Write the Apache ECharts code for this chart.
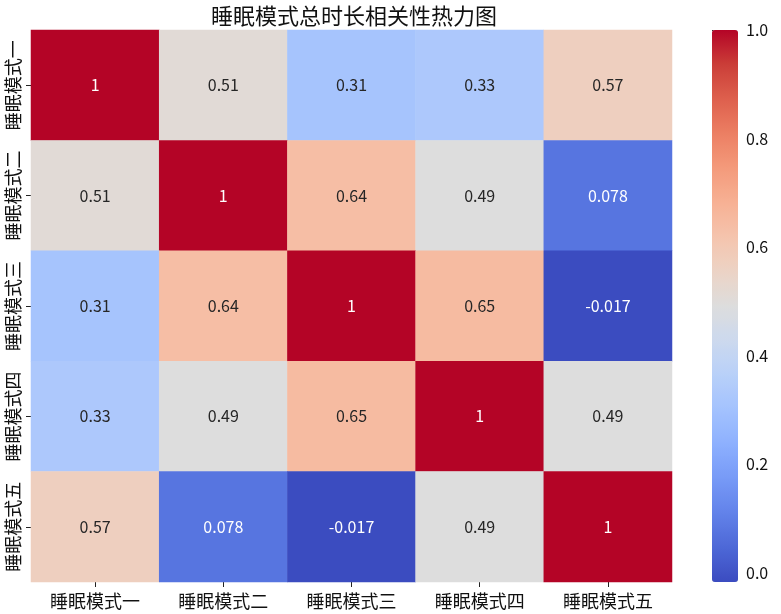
<!DOCTYPE html>
<html>
<head>
<meta charset="utf-8">
<script src="https://cdn.jsdelivr.net/npm/echarts@6/dist/echarts.min.js"></script>
<style>html,body{margin:0;padding:0;background:#fff}#c{width:781px;height:614px}</style>
</head>
<body>
<div id="c"></div>
<script>
const categories = ['睡眠模式一', '睡眠模式二', '睡眠模式三', '睡眠模式四', '睡眠模式五'];
const row1 = [1, 0.51, 0.31, 0.33, 0.57];
const row2 = [0.51, 1, 0.64, 0.49, 0.078];
const row3 = [0.31, 0.64, 1, 0.65, -0.017];
const row4 = [0.33, 0.49, 0.65, 1, 0.49];
const row5 = [0.57, 0.078, -0.017, 0.49, 1];
const colorbarTicks = [0, 0.2, 0.4, 0.6, 0.8, 1.0];
const vmin = -0.017, vmax = 1;

const rows = [row1, row2, row3, row4, row5];
const data = [];
rows.forEach((r, yi) => r.forEach((v, xi) => {
  const t = (v - vmin) / (vmax - vmin);
  const dark = t > 0.85 || t < 0.15;
  data.push({ value: [xi, yi, v], label: { color: dark ? '#ffffff' : '#262626' } });
}));

const coolwarm = ['#3b4cc0','#4d68d7','#6282ea','#779af7','#8db0fe','#a3c2fe','#b8d0f9','#ccd9ee',
  '#dddddd','#ecd3c5','#f5c4ad','#f7b194','#f49a7b','#ec7f63','#de604d','#cb3e38','#b40426'];
const FONT = '"Noto Sans CJK SC", "DejaVu Sans", sans-serif';

const chart = echarts.init(document.getElementById('c'));
chart.setOption({
  backgroundColor: '#fff',
  animation: false,
  textStyle: { fontFamily: FONT },
  title: {
    text: '睡眠模式总时长相关性热力图',
    left: 349, top: 0, textAlign: 'center',
    textStyle: { fontSize: 22, fontWeight: 'normal', color: '#111', fontFamily: FONT }
  },
  grid: [
    { left: 31, top: 30, width: 641, height: 552 },
    { left: 712, top: 30, width: 26, height: 552 }
  ],
  xAxis: [
    {
      type: 'category', data: categories, gridIndex: 0,
      axisLine: { show: false },
      axisTick: { show: true, length: 5, alignWithLabel: true, interval: 0, lineStyle: { color: '#222' } },
      axisLabel: { fontSize: 18, color: '#111', margin: 10, interval: 0, fontFamily: FONT },
      splitLine: { show: false }
    },
    { type: 'value', gridIndex: 1, show: false, min: 0, max: 1 }
  ],
  yAxis: [
    {
      type: 'category', data: categories, gridIndex: 0, inverse: true,
      axisLine: { show: false },
      axisTick: { show: true, length: 5, alignWithLabel: true, interval: 0, lineStyle: { color: '#222' } },
      axisLabel: { fontSize: 18, color: '#111', rotate: 90, margin: 9, interval: 0, hideOverlap: false, fontFamily: FONT },
      splitLine: { show: false }
    },
    {
      type: 'value', gridIndex: 1, position: 'right', min: vmin, max: vmax,
      axisLine: { show: false },
      axisTick: { show: true, length: 5, customValues: colorbarTicks, lineStyle: { color: '#222' } },
      axisLabel: { fontSize: 16, color: '#111', margin: 8, customValues: colorbarTicks,
        formatter: v => v.toFixed(1), fontFamily: FONT },
      splitLine: { show: false }
    }
  ],
  visualMap: {
    type: 'continuous', min: vmin, max: vmax, seriesIndex: 0,
    calculable: false, orient: 'vertical',
    left: 712, top: 30, itemWidth: 26, itemHeight: 552, padding: 0,
    text: null, showLabel: false, hoverLink: false,
    inRange: { color: coolwarm }
  },
  series: [{
    type: 'heatmap', xAxisIndex: 0, yAxisIndex: 0, data: data,
    label: {
      show: true, fontSize: 16, fontFamily: FONT,
      formatter: p => String(p.value[2])
    },
    itemStyle: { borderWidth: 0 },
    emphasis: { disabled: true }
  }]
});
</script>
</body>
</html>
